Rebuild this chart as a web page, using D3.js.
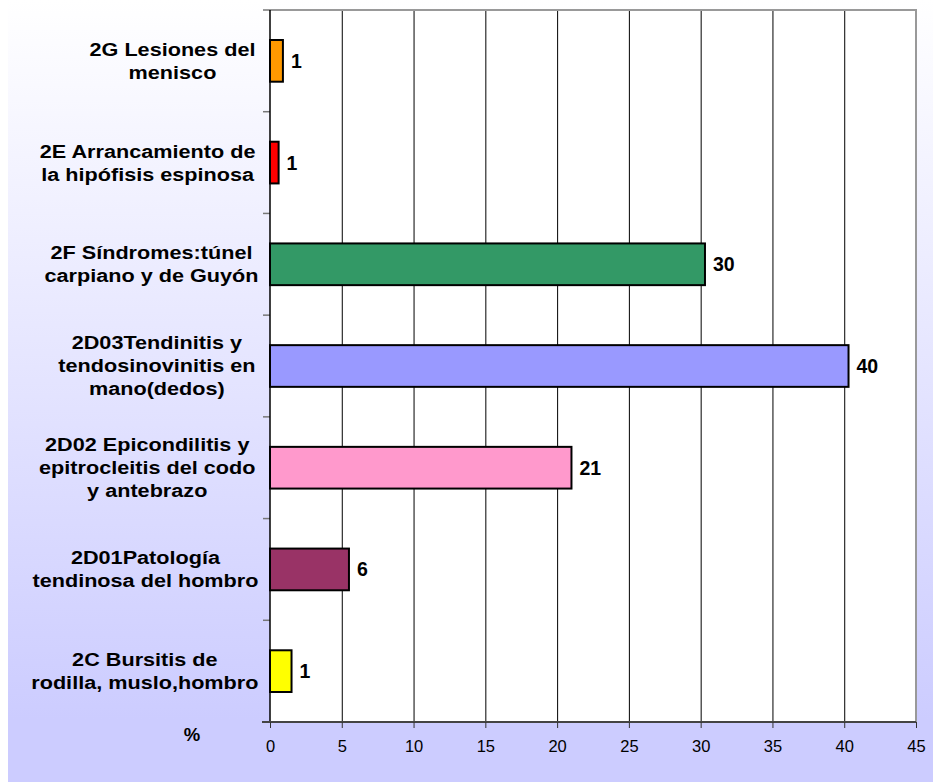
<!DOCTYPE html>
<html>
<head>
<meta charset="utf-8">
<script src="https://cdn.jsdelivr.net/npm/d3@7"></script>
<style>
  html, body { margin: 0; padding: 0; background: #fff; }
  svg { display: block; font-family: "Liberation Sans", Arial, sans-serif; }
</style>
</head>
<body>
<div id="chart"></div>
<script>
// categories top to bottom, each label split in the lines it wraps to
const categories = ["2G", "2E", "2F", "2D03", "2D02", "2D01", "2C"];
const labelLines = [
  ["2G Lesiones del", "menisco"],
  ["2E Arrancamiento de", "la hipófisis espinosa"],
  ["2F Síndromes:túnel", "carpiano y de Guyón"],
  ["2D03Tendinitis y", "tendosinovinitis en", "mano(dedos)"],
  ["2D02 Epicondilitis y", "epitrocleitis del codo", "y antebrazo"],
  ["2D01Patología", "tendinosa del hombro"],
  ["2C Bursitis de", "rodilla, muslo,hombro"]
];
// bar lengths as drawn, and the rounded labels printed next to them
const values = [0.9, 0.6, 30.3, 40.3, 21.0, 5.5, 1.5];
const valueLabels = ["1", "1", "30", "40", "21", "6", "1"];
const barColors = ["#FF9900", "#FF0000", "#339966", "#9999FF", "#FF99CC", "#993366", "#FFFF00"];
const xTicks = [0, 5, 10, 15, 20, 25, 30, 35, 40, 45];
const axisTitle = "%";

const W = 933, H = 782;
const plot = { left: 270, right: 916, top: 10, bottom: 722 };
const stretch = 1.17; // category text is a bit wide in the original

const svg = d3.select("#chart").append("svg")
  .attr("width", W)
  .attr("height", H);

// background gradient
const defs = svg.append("defs");
const grad = defs.append("linearGradient")
  .attr("id", "bg")
  .attr("gradientUnits", "userSpaceOnUse")
  .attr("x1", 0).attr("y1", 0).attr("x2", 0).attr("y2", 720);
grad.append("stop").attr("offset", 0).attr("stop-color", "#FFFFFF");
grad.append("stop").attr("offset", 1).attr("stop-color", "#CCCCFF");

svg.append("rect")
  .attr("x", 8).attr("y", 0)
  .attr("width", W).attr("height", H + 10)
  .attr("fill", "url(#bg)");

// scales
const x = d3.scaleLinear().domain([0, 45]).range([plot.left, plot.right]);
const y = d3.scaleBand()
  .domain(categories)
  .range([plot.top, plot.bottom])
  .paddingInner(0.59)
  .paddingOuter(0.295);

// plot area
svg.append("rect")
  .attr("x", plot.left).attr("y", plot.top)
  .attr("width", plot.right - plot.left)
  .attr("height", plot.bottom - plot.top)
  .attr("fill", "#fff");

// vertical gridlines
const grid = svg.append("g")
  .attr("transform", `translate(0,${plot.top})`)
  .call(d3.axisBottom(x).tickValues(xTicks.slice(1, -1)).tickSize(plot.bottom - plot.top).tickFormat(""));
grid.select(".domain").remove();
grid.selectAll("line").attr("stroke", "#000").attr("stroke-width", 1);

// plot border (top, right)
svg.append("path")
  .attr("d", `M${plot.left},${plot.top}H${plot.right}V${plot.bottom}`)
  .attr("fill", "none")
  .attr("stroke", "#999")
  .attr("stroke-width", 2);

// y axis: line plus ticks at the band boundaries
const halfGap = (y.step() - y.bandwidth()) / 2;
const bounds = categories.map(c => y(c) - halfGap).concat([plot.bottom]);
svg.append("g").selectAll("line")
  .data(bounds)
  .join("line")
  .attr("x1", plot.left - 7).attr("x2", plot.left)
  .attr("y1", d => d).attr("y2", d => d)
  .attr("stroke", "#777")
  .attr("stroke-width", 1.5);
svg.append("line")
  .attr("x1", plot.left).attr("x2", plot.left)
  .attr("y1", plot.top).attr("y2", plot.bottom)
  .attr("stroke", "#000")
  .attr("stroke-width", 1.5);

// x axis
const xAxis = svg.append("g")
  .attr("transform", `translate(0,${plot.bottom})`)
  .call(d3.axisBottom(x).tickValues(xTicks).tickSize(6).tickSizeOuter(0).tickPadding(12));
xAxis.select(".domain")
  .attr("d", `M${plot.left - 8},0H${plot.right}`)
  .attr("stroke", "#444")
  .attr("stroke-width", 2);
xAxis.selectAll(".tick line").attr("stroke", "#333").attr("stroke-width", 1);
xAxis.selectAll(".tick text")
  .attr("fill", "#000")
  .style("font-family", "'Liberation Sans', Arial, sans-serif")
  .style("font-size", "16.5px");

// "%" title
svg.append("text")
  .attr("x", 192).attr("y", 734)
  .attr("text-anchor", "middle")
  .attr("dominant-baseline", "central")
  .style("font-size", "18.5px")
  .style("font-weight", "bold")
  .text(axisTitle);

// bars
svg.append("g").selectAll("rect")
  .data(categories)
  .join("rect")
  .attr("x", x(0))
  .attr("y", d => y(d))
  .attr("width", (d, i) => x(values[i]) - x(0))
  .attr("height", y.bandwidth())
  .attr("fill", (d, i) => barColors[i])
  .attr("stroke", "#000")
  .attr("stroke-width", 2);

// value labels
svg.append("g").selectAll("text")
  .data(categories)
  .join("text")
  .attr("x", (d, i) => x(values[i]) + 8)
  .attr("y", d => y(d) + y.bandwidth() / 2)
  .attr("dominant-baseline", "central")
  .style("font-size", "19.5px")
  .style("font-weight", "bold")
  .text((d, i) => valueLabels[i]);

// category labels: centred block, right edge at 258 (wrapped lines keep their trailing space)
const fs = 18.5, lineH = 23, rightEdge = 258.5;
const catG = svg.append("g");
const measure = catG.append("text").style("font-size", fs + "px").style("font-weight", "bold");
const spaceW = 0.278 * fs * stretch;

categories.forEach((c, i) => {
  const lines = labelLines[i];
  const widths = lines.map((ln, k) => {
    measure.text(ln);
    return measure.node().getComputedTextLength() * stretch + (k < lines.length - 1 ? spaceW : 0);
  });
  const cx = rightEdge - d3.max(widths) / 2;
  const cy = y(c) + y.bandwidth() / 2;
  lines.forEach((ln, k) => {
    catG.append("g")
      .attr("transform", `translate(${cx},${cy + (k - (lines.length - 1) / 2) * lineH}) scale(${stretch},1)`)
      .append("text")
      .attr("text-anchor", "middle")
      .attr("dominant-baseline", "central")
      .style("font-size", fs + "px")
      .style("font-weight", "bold")
      .text(ln);
  });
});
measure.remove();
</script>
</body>
</html>
